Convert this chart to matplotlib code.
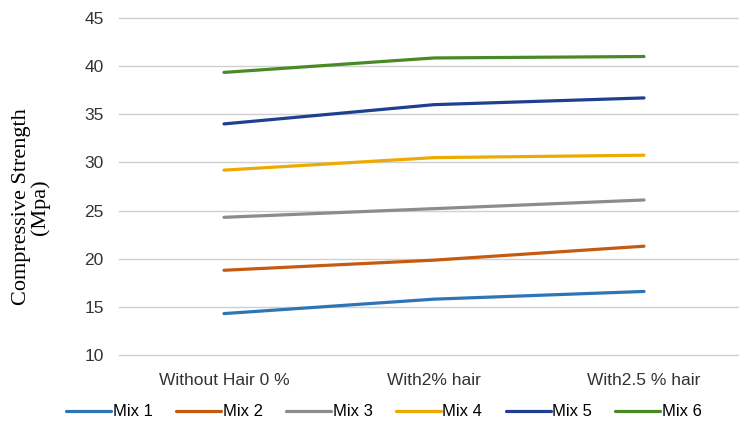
import matplotlib.pyplot as plt
import numpy as np

categories = ['Without Hair 0 %', 'With2% hair', 'With2.5 % hair']
series_names = ['Mix 1', 'Mix 2', 'Mix 3', 'Mix 4', 'Mix 5', 'Mix 6']
mix_1 = [14.3, 15.8, 16.6]
mix_2 = [18.8, 19.85, 21.3]
mix_3 = [24.3, 25.2, 26.1]
mix_4 = [29.2, 30.5, 30.75]
mix_5 = [34.0, 36.0, 36.7]
mix_6 = [39.35, 40.85, 41.0]
yticks = [10, 15, 20, 25, 30, 35, 40, 45]

colors = ['#2E75B6', '#C55A11', '#8C8C8C', '#EDAA00', '#1F3F91', '#4A8A26']

fig = plt.figure(figsize=(7.39, 4.28), dpi=100)
ax = fig.add_axes([119 / 739, 1 - 355 / 428, 630 / 739, 337 / 428])

x = np.arange(len(categories))
for name, vals, c in zip(series_names, [mix_1, mix_2, mix_3, mix_4, mix_5, mix_6], colors):
    ax.plot(x, vals, color=c, linewidth=2.3, solid_capstyle='round', label=name)

ax.set_xlim(-0.5, 2.5)
ax.set_ylim(10, 45)
ax.set_yticks(yticks)
ax.set_xticks(x)
ax.set_xticklabels(categories, fontsize=12.5, family='Liberation Sans', color='#333333')
for lbl in ax.get_yticklabels():
    lbl.set_fontsize(12.5)
    lbl.set_family('Liberation Sans')
    lbl.set_color('#333333')
ax.tick_params(axis='both', length=0)
ax.tick_params(axis='x', pad=13)
ax.tick_params(axis='y', pad=11)
for s in ax.spines.values():
    s.set_visible(False)
ax.grid(axis='y', color='#D0D0D0', linewidth=1)
for gl in ax.get_ygridlines():
    gl.set_clip_on(False)
ax.set_axisbelow(True)

fig.text(0.042, 1 - 207 / 428, 'Compressive Strength\n(Mpa)', rotation=90,
         ha='center', va='center', family='Liberation Serif', fontsize=16,
         linespacing=0.95)

fig.legend(loc='center', bbox_to_anchor=(384 / 739, 1 - 412 / 428), ncol=6,
           frameon=False, handlelength=2.7, handletextpad=0.1, columnspacing=1.4,
           prop={'family': 'Liberation Sans', 'size': 12})

fig.savefig('out.png', dpi=100)
